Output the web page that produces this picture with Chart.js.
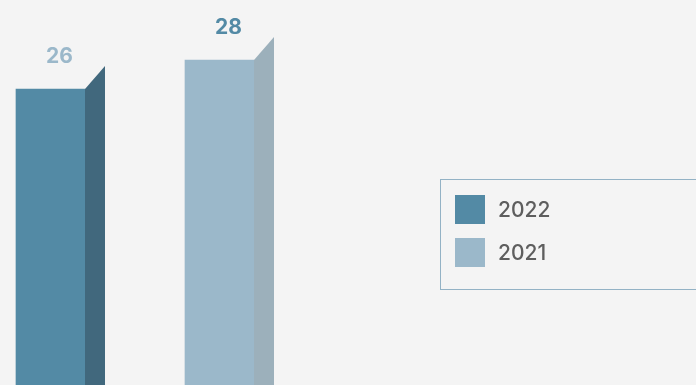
<!DOCTYPE html>
<html>
<head>
<meta charset="utf-8">
<script src="https://cdn.jsdelivr.net/npm/chart.js@4/dist/chart.umd.min.js"></script>
<style>
  html, body { margin: 0; padding: 0; background: #f4f4f4; overflow: hidden; }
  body { width: 696px; height: 385px; position: relative; }
  #wrap { position: absolute; left: 0; top: 0; width: 696px; height: 400px; }
  #legend {
    position: absolute; left: 440px; top: 179px; width: 300px; height: 111px;
    border: 1.5px solid #93b2c5; box-sizing: border-box;
    font-family: Inter, "DejaVu Sans", sans-serif; font-weight: 500; font-size: 21px; color: #5e5e5e;
  }
  .item { position: absolute; left: 14px; height: 30px; display: flex; align-items: center; }
  .sw { width: 30px; height: 29px; margin-right: 13px; }
</style>
</head>
<body>
<div id="wrap"><canvas id="c"></canvas></div>
<div id="legend"></div>
<script>
// Series shown, one bar each
const seriesNames = ['2022', '2021'];
const seriesValues = [26, 28];

// Face colours per series: front, side, value label
const frontColors = ['#538aa5', '#9bb8ca'];
const sideColors = ['#41687d', '#9cb0bb'];
const labelColors = ['#9bb8ca', '#538aa5'];

const DEPTH_X = 20, DEPTH_Y = 23;

const datasets = seriesNames.map((name, i) => ({
  label: name,
  data: seriesValues.map((v, j) => (j === i ? v : null)),
  backgroundColor: frontColors[i],
  borderWidth: 0,
  grouped: false,
  clip: false,
  barThickness: 69
}));

// Right-hand face of each bar, giving it depth, plus the value above it
const sideFaces = {
  id: 'sideFaces',
  afterDatasetsDraw(chart) {
    const ctx = chart.ctx;
    chart.data.datasets.forEach((ds, i) => {
      chart.getDatasetMeta(i).data.forEach((bar, j) => {
        if (ds.data[j] == null) return;
        const { x, y, base, width } = bar.getProps(['x', 'y', 'base', 'width'], true);
        const r = x + width / 2;
        ctx.save();
        ctx.fillStyle = sideColors[i];
        ctx.beginPath();
        ctx.moveTo(r, y);
        ctx.lineTo(r + DEPTH_X, y - DEPTH_Y);
        ctx.lineTo(r + DEPTH_X, base - DEPTH_Y);
        ctx.lineTo(r, base);
        ctx.closePath();
        ctx.fill();
        ctx.fillStyle = labelColors[i];
        ctx.font = 'bold 21px Inter, "DejaVu Sans", sans-serif';
        ctx.textAlign = 'center';
        ctx.textBaseline = 'alphabetic';
        ctx.fillText(String(ds.data[j]), x + 9, y - 26);
        ctx.restore();
      });
    });
  }
};

new Chart(document.getElementById('c'), {
  type: 'bar',
  data: { labels: seriesNames, datasets },
  options: {
    responsive: true,
    maintainAspectRatio: false,
    animation: false,
    layout: { padding: { left: 50.5, right: 476.5, top: 31, bottom: 6.5 } },
    plugins: { legend: { display: false }, tooltip: { enabled: false } },
    scales: {
      x: { display: false, offset: false },
      y: { display: false, min: 5, max: 30 }
    }
  },
  plugins: [sideFaces]
});

// Legend box
const legend = document.getElementById('legend');
seriesNames.forEach((name, i) => {
  const item = document.createElement('div');
  item.className = 'item';
  item.style.top = (14 + i * 43) + 'px';
  const sw = document.createElement('div');
  sw.className = 'sw';
  sw.style.background = frontColors[i];
  const tx = document.createElement('span');
  tx.textContent = name;
  item.appendChild(sw);
  item.appendChild(tx);
  legend.appendChild(item);
});
</script>
</body>
</html>
